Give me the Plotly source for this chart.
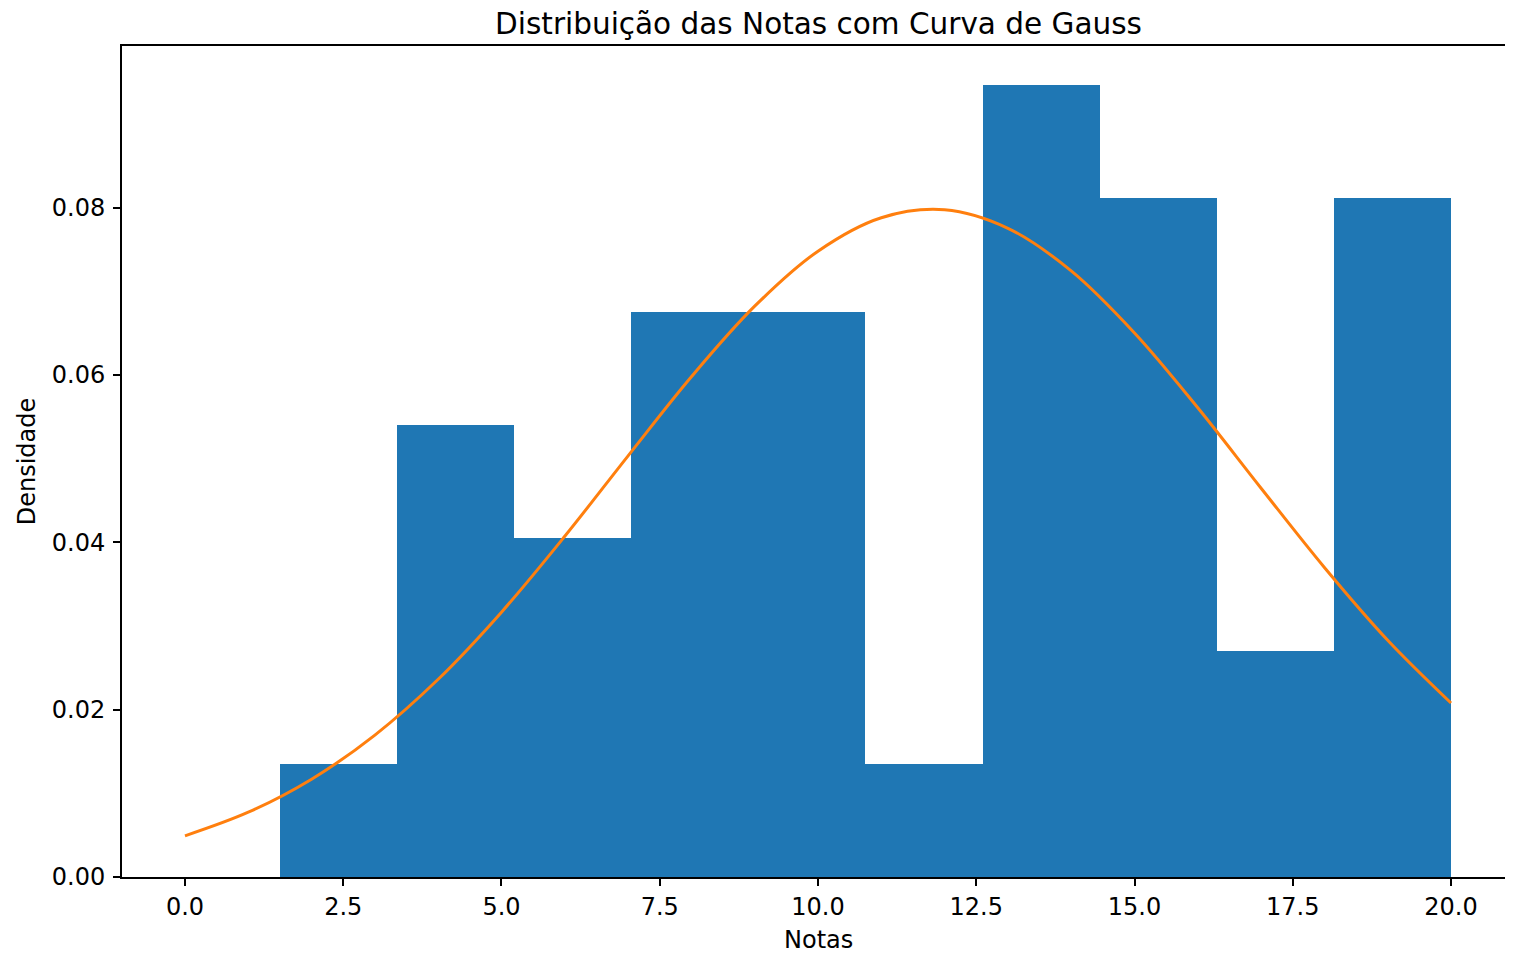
import plotly.graph_objects as go

# Histogram bins (edges) and counts per bin (40 grades)
bin_edges = [1.5, 3.35, 5.2, 7.05, 8.9, 10.75, 12.6, 14.45, 16.3, 18.15, 20.0]
bin_counts = [1, 4, 3, 5, 5, 1, 7, 6, 2, 6]

# Gauss curve at x = 0..20
curve_x = list(range(0, 21))
curve_y = [0.00492, 0.00774, 0.01169, 0.01696, 0.02363, 0.03165, 0.04072, 0.05033,
           0.05978, 0.06821, 0.07478, 0.07878, 0.07973, 0.07752, 0.07243, 0.06501,
           0.05607, 0.04646, 0.03699, 0.02829, 0.02079]

x_ticks = [0.0, 2.5, 5.0, 7.5, 10.0, 12.5, 15.0, 17.5, 20.0]
y_ticks = [0.00, 0.02, 0.04, 0.06, 0.08]

total = sum(bin_counts)
centers = [(a + b) / 2 for a, b in zip(bin_edges[:-1], bin_edges[1:])]
widths = [b - a for a, b in zip(bin_edges[:-1], bin_edges[1:])]
density = [c / (total * w) for c, w in zip(bin_counts, widths)]

FONT = "DejaVu Sans"
W, H = 1497, 947
L, T, B = 114, 38, 78
PLOT_H = H - T - B

fig = go.Figure()
fig.add_trace(go.Bar(x=centers, y=density, width=widths,
                     marker=dict(color="#1f77b4", line=dict(width=0)),
                     showlegend=False, hoverinfo="skip"))
fig.add_trace(go.Scatter(x=curve_x, y=curve_y, mode="lines",
                         line=dict(color="#ff7f0e", width=3, shape="spline"),
                         showlegend=False, hoverinfo="skip"))

fig.update_layout(
    width=W, height=H,
    margin=dict(l=L, r=0, t=T, b=B, pad=0),
    paper_bgcolor="white", plot_bgcolor="white",
    bargap=0,
    font=dict(family=FONT, size=24, color="black"),
    title=dict(text="Distribuição das Notas com Curva de Gauss",
               x=810.5 / W, xanchor="center",
               y=1 - 16 / H, yanchor="middle",
               font=dict(family=FONT, size=29.5, color="black")),
    xaxis=dict(range=[-0.995, 20.853], tickvals=x_ticks,
               ticktext=[f"{v:.1f}" for v in x_ticks],
               showgrid=False, zeroline=False, automargin=False,
               showline=True, linecolor="black", linewidth=2, mirror=True,
               ticks="outside", ticklen=7, tickwidth=1.7, tickcolor="black"),
    yaxis=dict(range=[0, 0.0993], tickvals=y_ticks,
               ticktext=[f"{v:.2f}" for v in y_ticks],
               showgrid=False, zeroline=False, automargin=False,
               showline=True, linecolor="black", linewidth=2, mirror=False,
               ticks="outside", ticklen=7, tickwidth=1.7, tickcolor="black",
               ticklabelstandoff=3,
               title=dict(text="Densidade", standoff=9,
                          font=dict(family=FONT, size=24))),
    annotations=[dict(text="Notas", xref="paper", yref="paper",
                      x=0.5 + (810.5 - (L + W) / 2) / (W - L),
                      y=-(932 - (T + PLOT_H)) / PLOT_H,
                      xanchor="center", yanchor="middle", showarrow=False,
                      font=dict(family=FONT, size=24, color="black"))],
)

fig.write_html("out.html")
